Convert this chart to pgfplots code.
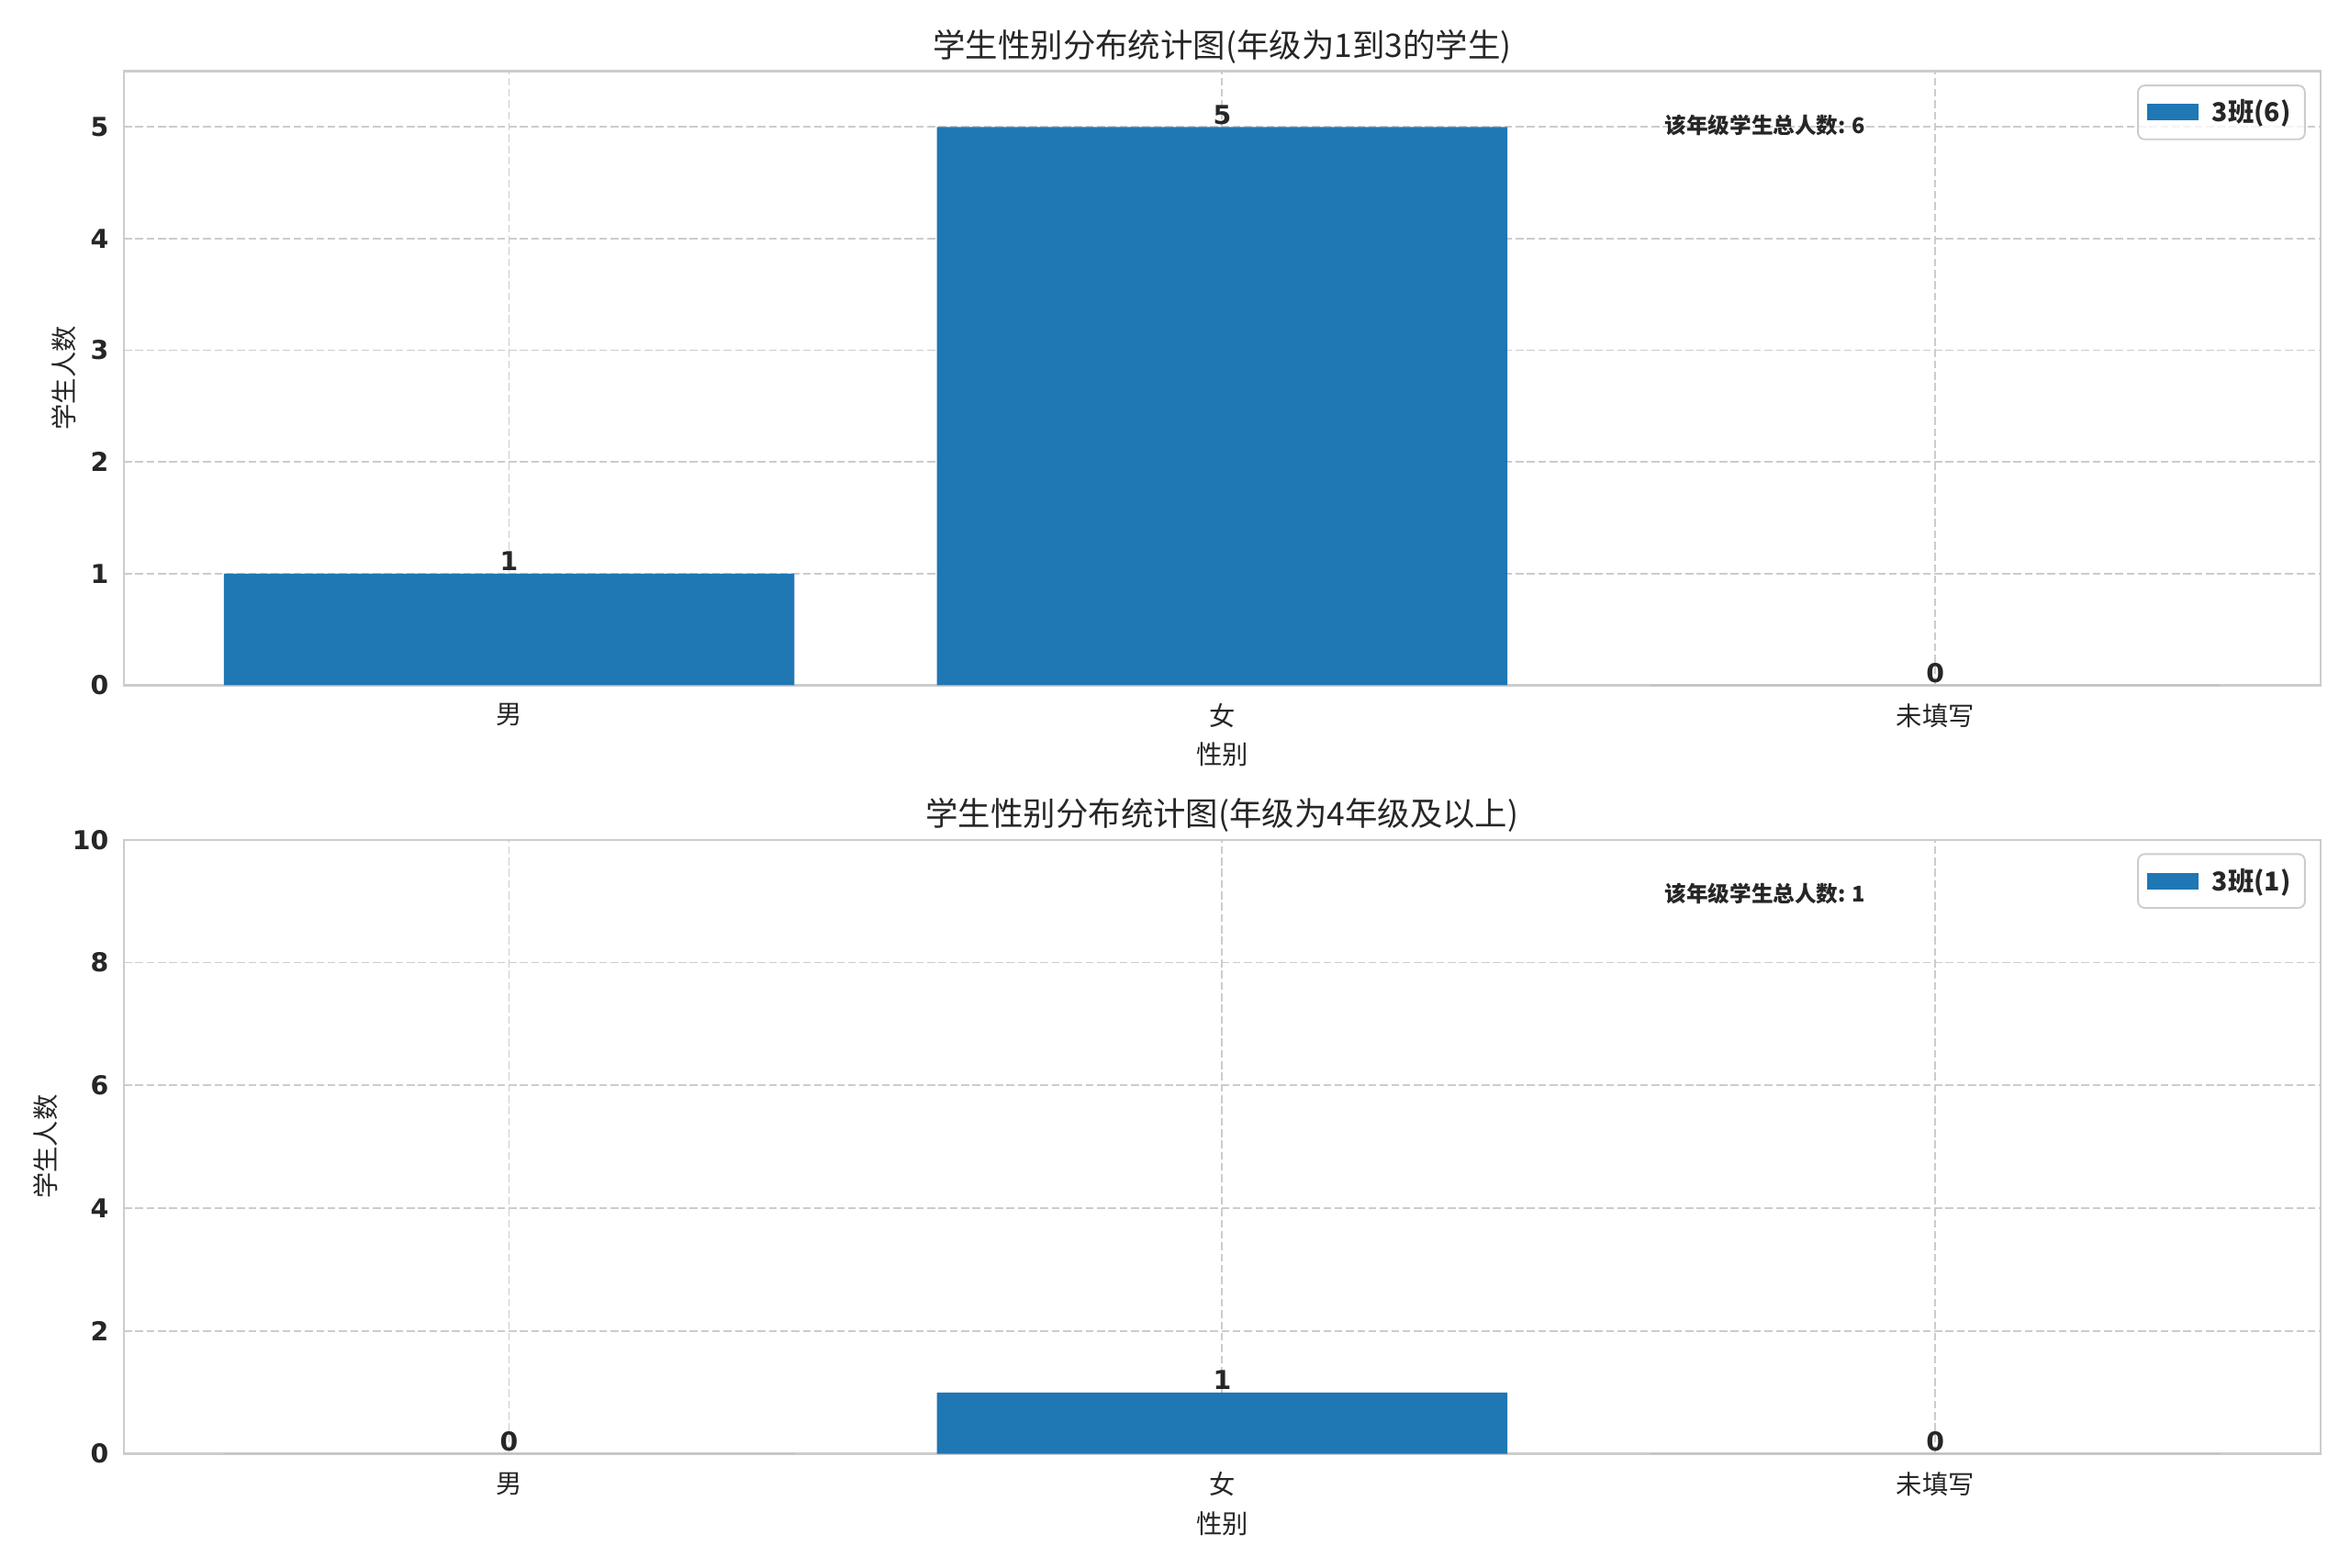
\documentclass[border=0pt]{standalone}
\usepackage{fontspec}
\setmainfont{DejaVu Sans}
\newfontfamily\cjk{Noto Sans CJK SC}
\usepackage{pgfplots}
\pgfplotsset{compat=1.18}
\definecolor{barblue}{HTML}{1F77B4}
\definecolor{gridgray}{HTML}{CCCCCC}
\definecolor{txt}{HTML}{262626}
\pgfplotsset{
 mystyle/.style={
  scale only axis, width=1009.5bp, height=282.2bp,
  axis line style={gridgray, line width=1bp},
  ymin=0, xmin=-0.54, xmax=2.54,
  xtick={0,1,2}, xticklabels={{\cjk 男},{\cjk 女},{\cjk 未填写}},
  major tick length=0pt,
  grid=major, grid style={dash pattern=on 3.6bp off 1.6bp, gridgray, line width=0.8bp},
  tick label style={font=\fontsize{12}{14}\selectfont, text=txt},
  xticklabel style={yshift=-5bp},
  yticklabel style={font=\fontsize{12}{14}\selectfont\bfseries, xshift=-3.5bp},
  /pgf/number format/assume math mode=true,
  xlabel={性别}, ylabel={学生人数},
  label style={font=\fontsize{12}{14}\selectfont\cjk, text=txt},
  title style={font=\fontsize{15}{18}\selectfont\cjk, text=txt, yshift=-6bp},
  ybar, bar width=0.8,
  nodes near coords,
  nodes near coords style={font=\fontsize{12}{14}\selectfont\bfseries, text=txt, inner sep=1bp},
  legend style={at={(0.9933,0.978)}, anchor=north east, draw=gridgray, line width=0.8bp,
    rounded corners=3bp, fill=white, fill opacity=0.8, text opacity=1,
    font=\fontsize{12}{14}\selectfont\cjk\bfseries, text=txt, inner sep=4bp,
    column sep=4bp, nodes={inner sep=2.5bp}},
  legend image code/.code={\fill[barblue, sharp corners, fill opacity=1] (0bp,-3.8bp) rectangle (23.6bp,3.8bp);},
 }
}
\begin{document}
\begin{tikzpicture}
\path[use as bounding box] (0,0) rectangle (1080bp,720.2bp);
\begin{axis}[mystyle, at={(56.95bp,405.3bp)}, anchor=south west,
  ymax=5.5, ytick={0,1,2,3,4,5},
  title={学生性别分布统计图(年级为1到3的学生)}]
\addplot[fill=barblue, draw=none] coordinates {(0,1) (1,5) (2,0)};
\legend{3班(6)}
\node[anchor=west, font=\fontsize{10}{12}\selectfont\cjk\bfseries, text=txt] at (rel axis cs:0.698,0.912) {该年级学生总人数: 6};
\end{axis}
\begin{axis}[mystyle, at={(56.95bp,52.1bp)}, anchor=south west,
  ymax=10, ytick={0,2,4,6,8,10},
  title={学生性别分布统计图(年级为4年级及以上)}]
\addplot[fill=barblue, draw=none] coordinates {(0,0) (1,1) (2,0)};
\legend{3班(1)}
\node[anchor=west, font=\fontsize{10}{12}\selectfont\cjk\bfseries, text=txt] at (rel axis cs:0.698,0.912) {该年级学生总人数: 1};
\end{axis}
\end{tikzpicture}
\end{document}
